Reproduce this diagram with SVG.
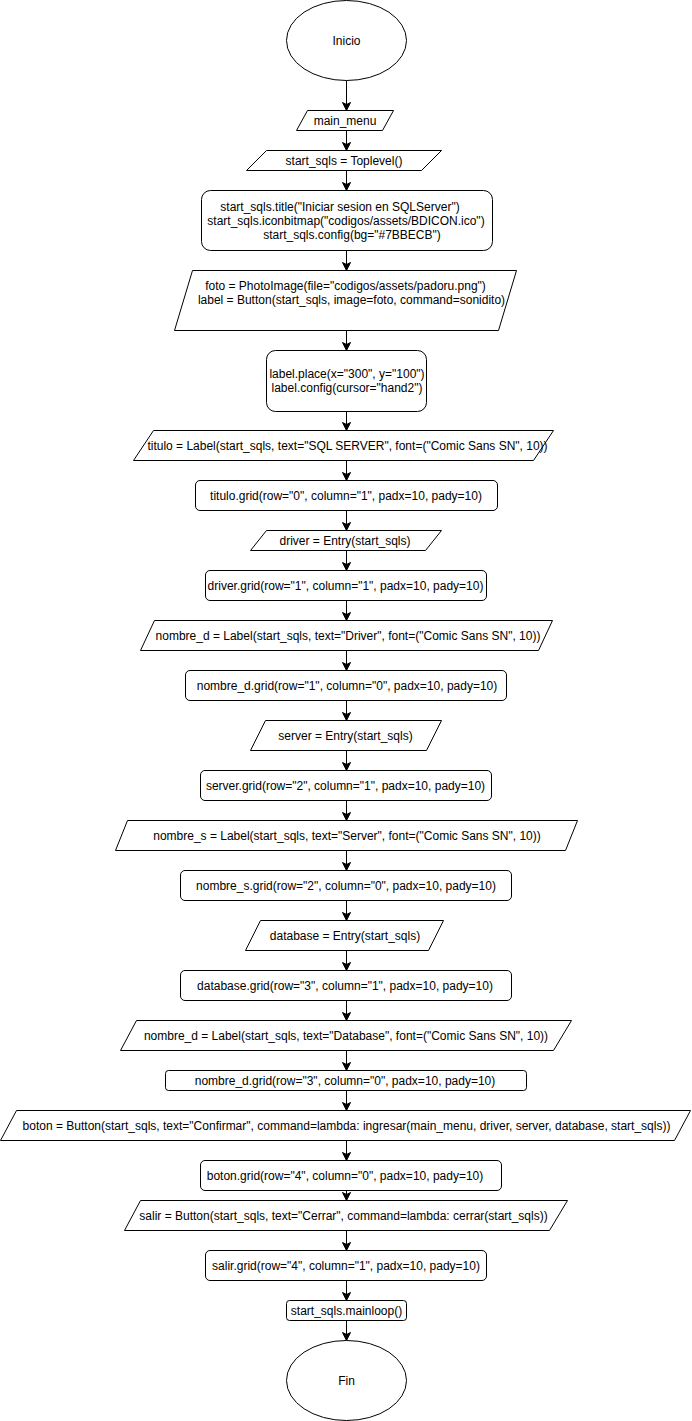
<svg xmlns="http://www.w3.org/2000/svg" width="692" height="1421" viewBox="0 0 692 1421">
  <defs>
    <marker id="arrow" markerUnits="userSpaceOnUse" markerWidth="10" markerHeight="10" viewBox="0 0 10 10" refX="9" refY="5" orient="auto">
      <path d="M1,1 L9,5 L1,9 L3,5 z" fill="#000" stroke="#000" stroke-width="1" stroke-linejoin="miter"/>
    </marker>
  </defs>
  <style>
    .shape { fill: #fff; stroke: #000; stroke-width: 1; }
    .lbl { font-family: "Liberation Sans", Arial, sans-serif; font-size: 12px; fill: #000; text-anchor: middle; }
    .edge { fill: none; stroke: #000; stroke-width: 1; marker-end: url(#arrow); }
  </style>
  <rect width="692" height="1421" fill="#fff"/>

  <!-- connectors -->
  <g id="connectors">
    <line class="edge" x1="346.5" y1="80.5" x2="346.5" y2="110.5"/>
    <line class="edge" x1="346.5" y1="130.5" x2="346.5" y2="150.5"/>
    <line class="edge" x1="346.5" y1="170.5" x2="346.5" y2="190.5"/>
    <line class="edge" x1="346.5" y1="250.5" x2="346.5" y2="270.5"/>
    <line class="edge" x1="346.5" y1="330.5" x2="346.5" y2="350.5"/>
    <line class="edge" x1="346.5" y1="411.5" x2="346.5" y2="430.5"/>
    <line class="edge" x1="346.5" y1="460.5" x2="346.5" y2="480.5"/>
    <line class="edge" x1="346.5" y1="510.5" x2="346.5" y2="530.5"/>
    <line class="edge" x1="346.5" y1="550.5" x2="346.5" y2="570.5"/>
    <line class="edge" x1="346.5" y1="600.5" x2="346.5" y2="620.5"/>
    <line class="edge" x1="346.5" y1="650.5" x2="346.5" y2="670.5"/>
    <line class="edge" x1="346.5" y1="700.5" x2="346.5" y2="720.5"/>
    <line class="edge" x1="346.5" y1="750.5" x2="346.5" y2="770.5"/>
    <line class="edge" x1="346.5" y1="800.5" x2="346.5" y2="820.5"/>
    <line class="edge" x1="346.5" y1="850.5" x2="346.5" y2="870.5"/>
    <line class="edge" x1="346.5" y1="900.5" x2="346.5" y2="920.5"/>
    <line class="edge" x1="346.5" y1="950.5" x2="346.5" y2="970.5"/>
    <line class="edge" x1="346.5" y1="1000.5" x2="346.5" y2="1020.5"/>
    <line class="edge" x1="346.5" y1="1050.5" x2="346.5" y2="1070.5"/>
    <line class="edge" x1="346.5" y1="1090.5" x2="346.5" y2="1110.5"/>
    <line class="edge" x1="346.5" y1="1140.5" x2="346.5" y2="1160.5"/>
    <line class="edge" x1="346.5" y1="1190.5" x2="346.5" y2="1200.5"/>
    <line class="edge" x1="346.5" y1="1230.5" x2="346.5" y2="1250.5"/>
    <line class="edge" x1="346.5" y1="1280.5" x2="346.5" y2="1300.5"/>
    <line class="edge" x1="346.5" y1="1320.5" x2="346.5" y2="1340.5"/>
  </g>

  <g id="inicio">
    <ellipse class="shape" cx="346.5" cy="40.5" rx="60" ry="40"/>
    <text class="lbl" x="346.5" y="45">Inicio</text>
  </g>

  <g id="main-menu">
    <polygon class="shape" points="307.5,110.5 393.5,110.5 382.5,130.5 296.5,130.5"/>
    <text class="lbl" x="345" y="124.5">main_menu</text>
  </g>

  <g id="toplevel">
    <polygon class="shape" points="266.5,150.5 441.5,150.5 421.5,170.5 246.5,170.5"/>
    <text class="lbl" x="344" y="165">start_sqls = Toplevel()</text>
  </g>

  <g id="window-setup">
    <rect class="shape" x="201.5" y="190.5" width="291" height="60" rx="9" ry="9"/>
    <text class="lbl" x="340" y="210.5">start_sqls.title("Iniciar sesion en SQLServer")</text>
    <text class="lbl" x="346" y="224.5">start_sqls.iconbitmap("codigos/assets/BDICON.ico")</text>
    <text class="lbl" x="352" y="238.5">start_sqls.config(bg="#7BBECB")</text>
  </g>

  <g id="foto-label">
    <polygon class="shape" points="192.5,270.5 516.5,270.5 498.5,330.5 174.5,330.5"/>
    <text class="lbl" x="345.5" y="289.5">foto = PhotoImage(file="codigos/assets/padoru.png")</text>
    <text class="lbl" x="351.5" y="303.5">label = Button(start_sqls, image=foto, command=sonidito)</text>
  </g>

  <g id="label-place">
    <rect class="shape" x="266.5" y="350.5" width="160" height="61" rx="9" ry="9"/>
    <text class="lbl" x="347" y="378">label.place(x="300", y="100")</text>
    <text class="lbl" x="347" y="392">label.config(cursor="hand2")</text>
  </g>

  <g id="titulo">
    <polygon class="shape" points="153.5,430.5 553.5,430.5 533.5,460.5 133.5,460.5"/>
    <text class="lbl" x="347.5" y="449.5">titulo = Label(start_sqls, text="SQL SERVER", font=("Comic Sans SN", 10))</text>
  </g>

  <g id="titulo-grid">
    <rect class="shape" x="195.5" y="480.5" width="302" height="30" rx="4.5" ry="4.5"/>
    <text class="lbl" x="346" y="499.5">titulo.grid(row="0", column="1", padx=10, pady=10)</text>
  </g>

  <g id="driver">
    <polygon class="shape" points="266.5,530.5 441.5,530.5 425.5,550.5 250.5,550.5"/>
    <text class="lbl" x="345" y="544.5">driver = Entry(start_sqls)</text>
  </g>

  <g id="driver-grid">
    <rect class="shape" x="205.5" y="570.5" width="281" height="30" rx="4.5" ry="4.5"/>
    <text class="lbl" x="345.5" y="589.5">driver.grid(row="1", column="1", padx=10, pady=10)</text>
  </g>

  <g id="nombre-d-driver">
    <polygon class="shape" points="154.5,620.5 552.5,620.5 538.5,650.5 140.5,650.5"/>
    <text class="lbl" x="348" y="639.5">nombre_d = Label(start_sqls, text="Driver", font=("Comic Sans SN", 10))</text>
  </g>

  <g id="nombre-d-grid-1">
    <rect class="shape" x="185.5" y="670.5" width="321" height="30" rx="4.5" ry="4.5"/>
    <text class="lbl" x="347" y="689.5">nombre_d.grid(row="1", column="0", padx=10, pady=10)</text>
  </g>

  <g id="server">
    <polygon class="shape" points="265.5,720.5 441.5,720.5 426.5,750.5 250.5,750.5"/>
    <text class="lbl" x="345.5" y="739.5">server = Entry(start_sqls)</text>
  </g>

  <g id="server-grid">
    <rect class="shape" x="200.5" y="770.5" width="291" height="30" rx="4.5" ry="4.5"/>
    <text class="lbl" x="345.5" y="789.5">server.grid(row="2", column="1", padx=10, pady=10)</text>
  </g>

  <g id="nombre-s">
    <polygon class="shape" points="127.5,820.5 577.5,820.5 565.5,850.5 115.5,850.5"/>
    <text class="lbl" x="347" y="839.5">nombre_s = Label(start_sqls, text="Server", font=("Comic Sans SN", 10))</text>
  </g>

  <g id="nombre-s-grid">
    <rect class="shape" x="180.5" y="870.5" width="331" height="30" rx="4.5" ry="4.5"/>
    <text class="lbl" x="346" y="889.5">nombre_s.grid(row="2", column="0", padx=10, pady=10)</text>
  </g>

  <g id="database">
    <polygon class="shape" points="260.5,920.5 443.5,920.5 428.5,950.5 245.5,950.5"/>
    <text class="lbl" x="345" y="939.5">database = Entry(start_sqls)</text>
  </g>

  <g id="database-grid">
    <rect class="shape" x="180.5" y="970.5" width="331" height="30" rx="4.5" ry="4.5"/>
    <text class="lbl" x="345" y="989.5">database.grid(row="3", column="1", padx=10, pady=10)</text>
  </g>

  <g id="nombre-d-database">
    <polygon class="shape" points="136.5,1020.5 571.5,1020.5 553.5,1050.5 120.5,1050.5"/>
    <text class="lbl" x="346" y="1039.5">nombre_d = Label(start_sqls, text="Database", font=("Comic Sans SN", 10))</text>
  </g>

  <g id="nombre-d-grid-3">
    <rect class="shape" x="165.5" y="1070.5" width="361" height="20" rx="3" ry="3"/>
    <text class="lbl" x="345" y="1084.5">nombre_d.grid(row="3", column="0", padx=10, pady=10)</text>
  </g>

  <g id="boton">
    <polygon class="shape" points="16.5,1110.5 690.5,1110.5 674.5,1140.5 0.5,1140.5"/>
    <text class="lbl" x="346.5" y="1129.5">boton = Button(start_sqls, text="Confirmar", command=lambda: ingresar(main_menu, driver, server, database, start_sqls))</text>
  </g>

  <g id="boton-grid">
    <rect class="shape" x="200.5" y="1160.5" width="301" height="30" rx="4.5" ry="4.5"/>
    <text class="lbl" x="345" y="1179.5">boton.grid(row="4", column="0", padx=10, pady=10)</text>
  </g>

  <g id="salir">
    <polygon class="shape" points="140.5,1200.5 567.5,1200.5 549.5,1230.5 124.5,1230.5"/>
    <text class="lbl" x="343.5" y="1219.5">salir = Button(start_sqls, text="Cerrar", command=lambda: cerrar(start_sqls))</text>
  </g>

  <g id="salir-grid">
    <rect class="shape" x="205.5" y="1250.5" width="281" height="30" rx="4.5" ry="4.5"/>
    <text class="lbl" x="346" y="1269.5">salir.grid(row="4", column="1", padx=10, pady=10)</text>
  </g>

  <g id="mainloop">
    <rect class="shape" x="286.5" y="1300.5" width="120" height="20" rx="3" ry="3"/>
    <text class="lbl" x="346.5" y="1314.5">start_sqls.mainloop()</text>
  </g>

  <g id="fin">
    <ellipse class="shape" cx="346.5" cy="1380.5" rx="60" ry="40"/>
    <text class="lbl" x="346.5" y="1384.5">Fin</text>
  </g>
</svg>
